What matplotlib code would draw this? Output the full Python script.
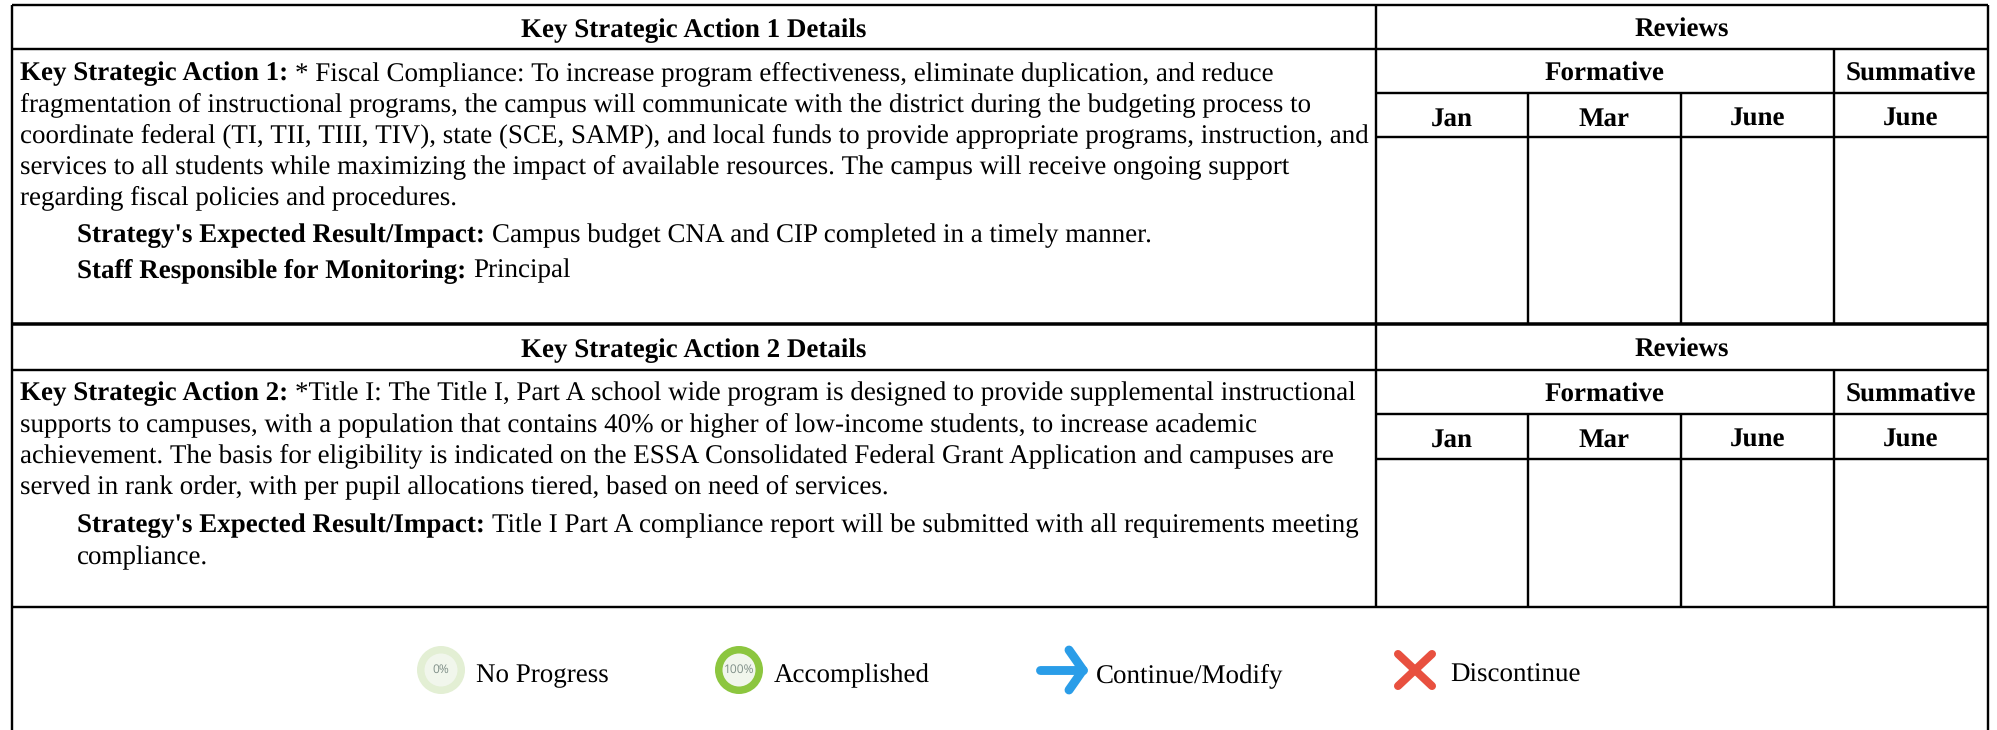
import matplotlib
matplotlib.use("Agg")
import matplotlib.pyplot as plt
from matplotlib.patches import Circle

plt.rcParams["text.hinting"] = "no_hinting"
plt.rcParams["text.hinting_factor"] = 1

W, H = 1997, 730
SERIF = "Liberation Serif"
FS_REG = 19.6
FS_BOLD = 19.4

# table layout (reference pixels)
X_LEFT, X_RIGHT = 12, 1988
X_REVIEW = [1376, 1528, 1681, 1834, 1988]
BLOCK_Y = [[5, 49, 93, 137, 324], [325, 370, 414, 459, 607]]

block_titles = ["Key Strategic Action 1 Details", "Key Strategic Action 2 Details"]
review_title = "Reviews"
group_labels = ["Formative", "Summative"]
month_labels = ["Jan", "Mar", "June", "June"]

block_lines = [
    [
        (20, 80, [("Key Strategic Action 1: ", True), ("* Fiscal Compliance: To increase program effectiveness, eliminate duplication, and reduce", False)]),
        (20, 111, [("fragmentation of instructional programs, the campus will communicate with the district during the budgeting process to", False)]),
        (20, 142, [("coordinate federal (TI, TII, TIII, TIV), state (SCE, SAMP), and local funds to provide appropriate programs, instruction, and", False)]),
        (20, 173, [("services to all students while maximizing the impact of available resources. The campus will receive ongoing support", False)]),
        (20, 204, [("regarding fiscal policies and procedures.", False)]),
        (77, 242, [("Strategy's Expected Result/Impact: ", True), ("Campus budget CNA and CIP completed in a timely manner.", False)]),
        (77, 277, [("Staff Responsible for Monitoring: ", True), ("Principal", False)]),
    ],
    [
        (20, 400, [("Key Strategic Action 2: ", True), ("*Title I: The Title I, Part A school wide program is designed to provide supplemental instructional", False)]),
        (20, 431, [("supports to campuses, with a population that contains 40% or higher of low-income students, to increase academic", False)]),
        (20, 462, [("achievement. The basis for eligibility is indicated on the ESSA Consolidated Federal Grant Application and campuses are", False)]),
        (20, 493, [("served in rank order, with per pupil allocations tiered, based on need of services.", False)]),
        (77, 532, [("Strategy's Expected Result/Impact: ", True), ("Title I Part A compliance report will be submitted with all requirements meeting", False)]),
        (77, 564, [("compliance.", False)]),
    ],
]

legend_labels = ["No Progress", "Accomplished", "Continue/Modify", "Discontinue"]
legend_text_x = [476, 774, 1096, 1450]
legend_icon_x = [441, 739, 1040, 1415]
LEGEND_Y = 670

fig = plt.figure(figsize=(W / 100, H / 100), dpi=100)
ax = fig.add_axes([0, 0, 1, 1])
ax.set_xlim(0, W)
ax.set_ylim(H, 0)
ax.axis("off")


def hline(y, x0, x1, lw=2.4):
    ax.plot([x0, x1], [y, y], color="black", lw=lw * 0.72, solid_capstyle="butt")


def vline(x, y0, y1, lw=2.4):
    ax.plot([x, x], [y0, y1], color="black", lw=lw * 0.72, solid_capstyle="butt")


def centered(x, y, s):
    ax.text(x, y, s, fontsize=FS_BOLD, family=SERIF, weight="bold",
            ha="center", va="baseline", color="black")


# grid
vline(X_LEFT, 5, H)
vline(X_RIGHT, 5, H)
hline(BLOCK_Y[0][0], X_LEFT, X_RIGHT)
for b, ys in enumerate(BLOCK_Y):
    y0, y1, y2, y3, y4 = ys
    hline(y1, X_LEFT, X_RIGHT)
    hline(y2, X_REVIEW[0], X_RIGHT)
    hline(y3, X_REVIEW[0], X_RIGHT)
    hline(y4, X_LEFT, X_RIGHT, lw=3.5 if b == 0 else 2.4)
    vline(X_REVIEW[0], y0, y4)
    vline(X_REVIEW[3], y1, y4)
    for x in X_REVIEW[1:3]:
        vline(x, y2, y4)
    centered((X_LEFT + X_REVIEW[0]) / 2, y0 + 32, block_titles[b])
    centered((X_REVIEW[0] + X_RIGHT) / 2, y0 + 32, review_title)
    centered((X_REVIEW[0] + X_REVIEW[3]) / 2, y1 + 32, group_labels[0])
    centered((X_REVIEW[3] + X_RIGHT) / 2, y1 + 32, group_labels[1])
    for i, m in enumerate(month_labels):
        centered((X_REVIEW[i] + X_REVIEW[i + 1]) / 2, y2 + 33, m)

# body text: chained bold + regular runs
renderer = fig.canvas.get_renderer()


def run_text(x, y, runs):
    for s, bold in runs:
        t = ax.text(x, y, s, fontsize=FS_BOLD if bold else FS_REG, family=SERIF,
                    weight="bold" if bold else "normal",
                    ha="left", va="baseline", color="black")
        if s.endswith(" "):
            # trailing spaces do not count toward the extent: measure with a guard
            t.set_text(s + ".")
            w_with = t.get_window_extent(renderer).width
            t.set_text(".")
            w_dot = t.get_window_extent(renderer).width
            t.set_text(s)
            x += w_with - w_dot
        else:
            x += t.get_window_extent(renderer).width


for lines in block_lines:
    for x, y, runs in lines:
        run_text(x, y, runs)

# legend text
for x, s in zip(legend_text_x, legend_labels):
    ax.text(x, LEGEND_Y + 12, s, fontsize=FS_REG, family=SERIF, ha="left", va="baseline", color="black")

# legend icons
R_OUT, R_IN = 24, 16.5
for cx, ring, label in [(legend_icon_x[0], "#e3efd4", "0%"), (legend_icon_x[1], "#8cc63f", "100%")]:
    ax.add_patch(Circle((cx, LEGEND_Y), R_OUT, fc=ring, ec="none"))
    ax.add_patch(Circle((cx, LEGEND_Y), R_IN, fc="#f1f6ec", ec="none"))
    ax.text(cx, LEGEND_Y, label, fontsize=8.5, family="Open Sans", ha="center", va="center", color="#7f8f88")

ax_x = legend_icon_x[2]
ax.plot([ax_x, ax_x + 43], [LEGEND_Y, LEGEND_Y], color="#2a9de8", lw=6.4, solid_capstyle="round")
ax.plot([ax_x + 29, ax_x + 43, ax_x + 29], [LEGEND_Y - 20, LEGEND_Y, LEGEND_Y + 20], color="#2a9de8",
        lw=6.4, solid_capstyle="round", solid_joinstyle="round")

xx = legend_icon_x[3]
ax.plot([xx - 17, xx + 17], [LEGEND_Y - 16, LEGEND_Y + 16], color="#e8503f", lw=5.8, solid_capstyle="round")
ax.plot([xx - 17, xx + 17], [LEGEND_Y + 16, LEGEND_Y - 16], color="#e8503f", lw=5.8, solid_capstyle="round")

fig.savefig("out.png", dpi=100, facecolor="white")
